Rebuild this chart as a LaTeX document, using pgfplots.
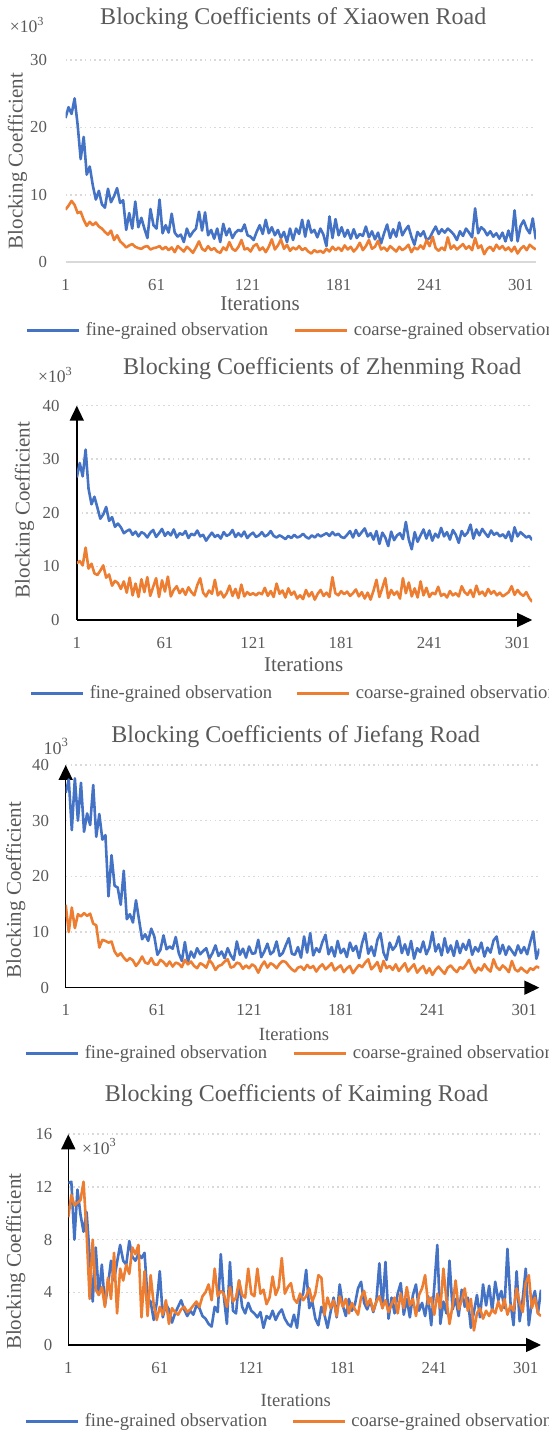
\documentclass[border=0pt]{standalone}
\usepackage{fontspec}
\setmainfont{Liberation Serif}
\usepackage{pgfplots}
\usepackage{pgfplotstable}
\pgfplotsset{compat=1.18}
\usetikzlibrary{arrows.meta}
\definecolor{fineblue}{HTML}{4472C4}
\definecolor{coarseorange}{HTML}{ED7D31}
\definecolor{txtgray}{HTML}{595959}
\definecolor{gridgray}{HTML}{D9D9D9}

% Xiaowen Road: columns f (fine) and c (coarse), iterations 1,3,5,...,311
\pgfplotstableread[row sep=\\]{
f c \\
21.4 7.8 \\ 23.0 8.4 \\ 22.0 9.1 \\ 24.3 8.5 \\ 20.4 7.3 \\ 15.3 7.5 \\ 18.6 6.3 \\ 13.0 5.4 \\
14.2 6.0 \\ 11.4 5.5 \\ 9.3 5.9 \\ 10.6 5.3 \\ 8.6 5.0 \\ 8.1 4.5 \\ 10.9 4.1 \\ 8.9 4.7 \\
9.8 3.3 \\ 11.0 4.0 \\ 8.8 3.1 \\ 9.2 2.7 \\ 4.8 2.2 \\ 7.3 2.5 \\ 5.0 2.7 \\ 9.0 2.3 \\
5.2 2.1 \\ 6.6 2.0 \\ 5.0 2.3 \\ 3.6 2.4 \\ 7.9 1.9 \\ 5.5 2.1 \\ 5.0 2.2 \\ 9.3 2.4 \\
4.3 1.9 \\ 5.5 2.3 \\ 4.4 1.8 \\ 7.2 2.2 \\ 4.4 1.5 \\ 3.8 2.4 \\ 4.1 2.0 \\ 3.0 1.6 \\
5.0 2.3 \\ 3.8 1.9 \\ 4.5 1.4 \\ 5.0 2.2 \\ 7.5 3.1 \\ 4.7 2.0 \\ 7.4 1.7 \\ 4.0 2.4 \\
4.8 1.8 \\ 3.5 2.1 \\ 5.0 1.6 \\ 3.0 1.4 \\ 5.7 2.2 \\ 4.0 1.8 \\ 5.0 3.0 \\ 3.6 2.0 \\
4.4 1.7 \\ 4.8 2.3 \\ 4.6 3.3 \\ 5.6 1.9 \\ 4.0 2.1 \\ 3.8 1.6 \\ 3.3 2.4 \\ 4.5 2.7 \\
5.5 1.8 \\ 4.2 2.2 \\ 6.3 1.5 \\ 4.3 2.3 \\ 5.2 3.4 \\ 4.0 1.9 \\ 4.8 2.5 \\ 3.6 3.4 \\
4.5 2.0 \\ 3.0 2.6 \\ 5.0 1.7 \\ 3.3 2.2 \\ 5.0 1.9 \\ 4.2 2.4 \\ 6.3 1.8 \\ 3.8 2.1 \\
6.2 1.6 \\ 4.4 1.3 \\ 4.8 1.8 \\ 3.7 1.5 \\ 5.0 1.7 \\ 4.1 1.4 \\ 2.4 2.0 \\ 6.8 1.6 \\
3.6 2.3 \\ 6.4 1.8 \\ 4.0 2.2 \\ 5.2 1.7 \\ 3.8 2.5 \\ 4.8 1.9 \\ 3.5 2.3 \\ 4.9 1.6 \\
3.6 2.1 \\ 4.2 2.9 \\ 3.9 1.8 \\ 5.3 2.4 \\ 3.7 3.3 \\ 4.6 2.0 \\ 3.4 2.3 \\ 4.4 3.2 \\
2.8 1.9 \\ 4.3 2.2 \\ 5.6 1.7 \\ 3.6 2.4 \\ 4.9 2.0 \\ 3.8 1.6 \\ 5.9 2.3 \\ 4.0 1.8 \\
4.8 2.1 \\ 5.4 2.6 \\ 3.8 1.5 \\ 2.6 2.2 \\ 4.5 1.9 \\ 3.9 2.5 \\ 4.6 2.0 \\ 3.3 3.3 \\
3.6 2.4 \\ 4.5 3.8 \\ 5.3 2.1 \\ 4.2 1.7 \\ 4.9 2.2 \\ 4.4 1.8 \\ 5.0 3.7 \\ 4.6 2.0 \\
4.1 2.5 \\ 3.3 1.9 \\ 4.6 2.3 \\ 3.9 2.7 \\ 5.0 2.0 \\ 4.4 2.4 \\ 3.7 1.8 \\ 8.0 3.6 \\
4.3 2.1 \\ 5.2 2.5 \\ 4.8 1.2 \\ 4.0 2.0 \\ 4.6 2.3 \\ 3.8 1.7 \\ 4.3 2.6 \\ 3.5 2.0 \\
4.4 2.4 \\ 3.1 1.8 \\ 4.7 2.2 \\ 3.2 1.6 \\ 7.7 2.3 \\ 3.1 1.3 \\ 5.4 2.0 \\ 6.2 2.4 \\
5.0 1.8 \\ 4.3 2.6 \\ 6.5 2.2 \\ 3.4 1.9 \\
}\tabA

% Zhenming Road
\pgfplotstableread[row sep=\\]{
f c \\
26.6 10.6 \\ 29.3 11.0 \\ 26.8 10.2 \\ 31.8 13.5 \\ 24.5 9.6 \\ 21.6 10.5 \\ 23.0 8.7 \\ 21.0 8.4 \\
18.9 9.2 \\ 19.7 10.2 \\ 21.1 7.9 \\ 18.5 8.5 \\ 19.2 6.4 \\ 17.4 7.3 \\ 18.0 6.9 \\ 17.3 5.8 \\
16.2 7.2 \\ 16.6 5.1 \\ 16.9 7.9 \\ 15.9 4.6 \\ 16.5 6.8 \\ 15.6 4.3 \\ 16.4 7.6 \\ 16.1 5.2 \\
15.4 8.0 \\ 16.3 4.5 \\ 16.8 6.2 \\ 15.5 7.8 \\ 16.2 4.3 \\ 17.0 7.4 \\ 15.7 5.3 \\ 16.4 8.1 \\
15.8 4.4 \\ 16.9 5.6 \\ 15.4 6.3 \\ 16.2 5.0 \\ 15.9 5.8 \\ 16.6 4.7 \\ 15.3 6.1 \\ 16.1 5.2 \\
15.8 4.6 \\ 16.7 6.5 \\ 15.6 7.8 \\ 15.9 5.1 \\ 14.8 4.4 \\ 15.6 5.5 \\ 16.3 4.9 \\ 15.5 7.5 \\
15.9 4.6 \\ 15.2 5.3 \\ 16.4 4.2 \\ 15.7 5.0 \\ 16.0 6.4 \\ 16.8 4.5 \\ 15.5 5.8 \\ 16.2 4.1 \\
15.6 6.6 \\ 16.5 4.4 \\ 15.3 5.2 \\ 15.9 4.7 \\ 16.3 5.0 \\ 15.5 4.6 \\ 15.8 5.1 \\ 16.4 4.8 \\
15.6 6.0 \\ 15.9 4.5 \\ 16.6 5.4 \\ 15.7 4.3 \\ 15.4 6.8 \\ 15.8 4.9 \\ 15.5 5.5 \\ 15.1 4.2 \\
15.7 5.9 \\ 15.3 4.7 \\ 15.9 5.3 \\ 15.4 4.0 \\ 15.6 4.6 \\ 16.1 3.9 \\ 15.5 5.6 \\ 15.2 4.4 \\
15.8 5.2 \\ 15.4 3.8 \\ 16.0 4.9 \\ 15.6 5.6 \\ 15.9 4.5 \\ 16.2 5.1 \\ 15.7 4.3 \\ 16.4 8.0 \\
15.8 5.0 \\ 16.1 4.6 \\ 15.5 5.4 \\ 15.3 4.8 \\ 15.9 5.3 \\ 16.6 4.5 \\ 15.4 5.0 \\ 16.8 5.7 \\
15.7 4.4 \\ 16.4 5.2 \\ 17.1 4.0 \\ 15.6 5.1 \\ 16.2 3.8 \\ 15.0 5.5 \\ 16.6 7.5 \\ 14.2 4.3 \\
16.3 6.0 \\ 15.4 7.8 \\ 13.8 4.1 \\ 16.5 5.6 \\ 14.9 4.7 \\ 15.8 5.3 \\ 16.2 4.0 \\ 15.1 7.8 \\
18.3 5.0 \\ 15.0 7.0 \\ 13.2 4.4 \\ 16.4 5.9 \\ 14.6 4.2 \\ 15.8 7.2 \\ 16.9 4.6 \\ 15.2 6.0 \\
16.7 4.3 \\ 14.8 5.1 \\ 16.1 4.8 \\ 15.4 6.2 \\ 17.2 4.5 \\ 15.6 4.9 \\ 16.4 4.2 \\ 15.0 5.4 \\
16.8 4.6 \\ 15.9 5.0 \\ 14.4 4.4 \\ 16.6 6.3 \\ 15.7 5.2 \\ 16.3 4.7 \\ 17.8 5.6 \\ 15.2 4.3 \\
16.9 6.4 \\ 15.8 4.8 \\ 17.0 5.3 \\ 16.2 4.5 \\ 15.5 5.8 \\ 16.7 4.9 \\ 15.9 5.4 \\ 16.3 4.6 \\
15.6 5.1 \\ 16.0 4.4 \\ 15.3 4.8 \\ 16.5 5.2 \\ 14.7 6.3 \\ 17.3 4.7 \\ 15.6 5.6 \\ 16.4 4.9 \\
15.9 4.5 \\ 15.4 5.2 \\ 15.7 4.1 \\ 14.9 3.4 \\
}\tabB

% Jiefang Road
\pgfplotstableread[row sep=\\]{
f c \\
35.0 14.9 \\ 37.4 10.0 \\ 28.3 14.4 \\ 37.6 10.7 \\ 30.0 13.2 \\ 36.8 12.8 \\ 28.0 13.4 \\ 31.3 12.9 \\
29.2 13.3 \\ 36.4 11.5 \\ 27.1 11.2 \\ 31.2 7.2 \\ 26.6 8.6 \\ 27.4 8.4 \\ 16.4 8.1 \\ 23.8 8.3 \\
18.3 6.5 \\ 18.0 5.7 \\ 14.9 6.2 \\ 21.0 5.4 \\ 12.3 4.8 \\ 13.2 5.3 \\ 11.7 4.9 \\ 15.7 3.9 \\
12.2 4.6 \\ 8.7 5.6 \\ 9.6 4.5 \\ 8.4 4.3 \\ 10.6 5.3 \\ 9.2 4.2 \\ 5.9 4.1 \\ 6.8 5.0 \\
9.4 4.6 \\ 6.9 3.9 \\ 7.4 4.7 \\ 7.0 3.8 \\ 9.1 4.5 \\ 6.2 4.3 \\ 4.8 3.7 \\ 8.2 5.0 \\
4.7 4.2 \\ 6.5 4.7 \\ 5.4 3.9 \\ 7.1 3.5 \\ 6.0 4.4 \\ 6.6 4.1 \\ 7.1 3.6 \\ 5.2 5.0 \\
6.2 4.3 \\ 7.6 3.2 \\ 5.7 3.9 \\ 6.5 4.1 \\ 5.3 4.7 \\ 7.1 5.1 \\ 5.8 3.6 \\ 5.0 3.8 \\
8.3 4.5 \\ 5.9 4.3 \\ 7.0 3.4 \\ 5.4 4.0 \\ 7.4 3.5 \\ 6.1 4.2 \\ 6.2 3.8 \\ 8.6 2.7 \\
5.5 3.9 \\ 6.5 4.7 \\ 7.9 3.6 \\ 6.0 4.4 \\ 6.5 4.1 \\ 8.3 3.5 \\ 5.7 4.3 \\ 6.2 4.8 \\
7.6 4.6 \\ 8.9 3.9 \\ 6.1 3.3 \\ 5.9 2.9 \\ 7.3 3.6 \\ 5.4 3.8 \\ 9.2 3.2 \\ 6.3 4.1 \\
9.8 3.5 \\ 5.8 3.9 \\ 7.1 2.9 \\ 6.4 3.7 \\ 8.2 4.2 \\ 9.5 3.3 \\ 6.0 3.8 \\ 7.3 4.4 \\
5.6 3.1 \\ 8.4 3.6 \\ 6.2 4.0 \\ 7.0 2.8 \\ 5.5 3.5 \\ 8.1 3.9 \\ 6.6 2.6 \\ 7.5 3.4 \\
5.3 4.1 \\ 8.0 3.7 \\ 9.8 4.5 \\ 6.1 5.1 \\ 7.4 3.3 \\ 5.7 3.9 \\ 8.6 4.6 \\ 9.8 2.9 \\
6.3 4.8 \\ 5.0 3.5 \\ 8.1 3.9 \\ 6.8 3.2 \\ 7.5 4.2 \\ 9.2 3.0 \\ 6.2 3.7 \\ 7.8 4.4 \\
5.9 2.9 \\ 8.4 3.6 \\ 5.2 4.2 \\ 7.1 2.7 \\ 6.4 3.4 \\ 8.3 3.9 \\ 6.0 2.6 \\ 7.2 3.5 \\
10.0 2.3 \\ 6.5 3.2 \\ 7.8 3.8 \\ 5.8 3.1 \\ 8.9 2.5 \\ 6.3 3.6 \\ 7.6 4.0 \\ 5.7 3.3 \\
8.4 2.8 \\ 6.2 3.7 \\ 7.9 3.4 \\ 6.8 4.1 \\ 8.6 5.0 \\ 5.9 3.5 \\ 7.3 2.7 \\ 6.5 3.6 \\
8.1 3.1 \\ 5.6 4.2 \\ 7.2 3.4 \\ 6.3 2.9 \\ 8.5 5.1 \\ 9.2 3.7 \\ 6.1 3.2 \\ 7.7 4.0 \\
5.9 3.5 \\ 7.4 2.8 \\ 6.6 4.8 \\ 5.8 3.3 \\ 7.6 2.9 \\ 6.2 3.6 \\ 7.3 3.1 \\ 6.0 2.7 \\
8.2 3.5 \\ 10.1 3.2 \\ 5.2 3.8 \\ 7.0 3.6 \\
}\tabC

% Kaiming Road
\pgfplotstableread[row sep=\\]{
f c \\
12.3 9.7 \\ 12.4 11.4 \\ 8.0 10.6 \\ 11.8 10.8 \\ 9.9 11.0 \\ 8.6 12.4 \\ 10.1 8.5 \\ 6.8 3.5 \\
3.3 8.0 \\ 7.4 4.2 \\ 3.8 3.8 \\ 6.1 4.4 \\ 3.0 2.9 \\ 4.5 5.1 \\ 6.4 3.5 \\ 4.9 7.0 \\
6.3 2.4 \\ 7.6 5.8 \\ 6.4 4.9 \\ 6.1 6.1 \\ 7.9 5.4 \\ 6.7 7.4 \\ 6.4 6.9 \\ 6.9 7.6 \\
6.6 2.1 \\ 7.0 5.6 \\ 3.5 2.2 \\ 3.3 5.3 \\ 1.9 3.1 \\ 3.2 1.9 \\ 5.6 2.9 \\ 2.1 2.3 \\
3.1 3.4 \\ 2.7 1.6 \\ 1.7 2.8 \\ 2.4 2.5 \\ 2.9 2.3 \\ 3.4 2.7 \\ 2.7 2.9 \\ 2.2 2.5 \\
2.6 2.7 \\ 2.3 3.0 \\ 3.0 3.3 \\ 2.8 2.9 \\ 2.2 3.7 \\ 2.0 4.0 \\ 1.6 4.6 \\ 1.4 3.4 \\
2.9 5.8 \\ 2.5 3.7 \\ 6.9 4.1 \\ 3.7 3.9 \\ 1.6 2.9 \\ 6.3 4.4 \\ 2.6 3.3 \\ 2.4 3.6 \\
4.9 4.9 \\ 2.9 3.8 \\ 2.4 3.6 \\ 3.2 5.8 \\ 2.6 3.9 \\ 2.4 3.7 \\ 2.1 5.8 \\ 2.5 3.9 \\
1.3 4.2 \\ 2.2 3.1 \\ 2.0 3.6 \\ 2.6 5.2 \\ 1.9 3.8 \\ 2.4 4.4 \\ 2.7 6.6 \\ 2.0 3.9 \\
1.6 4.4 \\ 1.4 4.7 \\ 2.3 3.5 \\ 1.3 3.2 \\ 3.4 3.9 \\ 3.9 3.4 \\ 5.7 3.7 \\ 2.8 4.3 \\
3.3 3.3 \\ 2.0 3.9 \\ 1.5 5.3 \\ 2.9 5.1 \\ 2.3 2.3 \\ 1.3 3.6 \\ 2.5 2.8 \\ 3.6 3.4 \\
2.1 2.2 \\ 4.6 3.7 \\ 3.0 2.9 \\ 2.2 3.5 \\ 3.5 2.4 \\ 2.6 3.2 \\ 3.1 2.7 \\ 4.3 2.3 \\
4.8 3.6 \\ 3.2 4.1 \\ 2.7 3.0 \\ 3.4 3.5 \\ 2.5 2.6 \\ 3.3 3.3 \\ 6.2 3.7 \\ 2.8 2.8 \\
6.3 3.4 \\ 2.0 2.5 \\ 3.6 3.1 \\ 2.4 3.6 \\ 3.9 2.4 \\ 4.7 3.9 \\ 2.3 2.8 \\ 3.5 4.4 \\
2.1 3.0 \\ 3.8 3.5 \\ 4.6 2.2 \\ 2.6 3.8 \\ 3.2 4.3 \\ 2.2 5.3 \\ 3.7 3.1 \\ 1.5 3.6 \\
4.4 2.3 \\ 7.6 3.9 \\ 1.6 2.8 \\ 3.3 5.8 \\ 2.4 3.4 \\ 6.4 1.6 \\ 2.7 3.0 \\ 3.5 4.9 \\
2.2 2.7 \\ 4.2 3.4 \\ 2.9 4.3 \\ 3.6 2.6 \\ 1.3 3.5 \\ 2.5 1.1 \\ 3.8 2.4 \\ 2.1 2.8 \\
4.6 2.0 \\ 3.0 2.6 \\ 4.5 2.2 \\ 2.6 2.7 \\ 4.8 2.4 \\ 3.4 3.3 \\ 4.1 2.6 \\ 2.8 3.5 \\
7.3 2.3 \\ 3.2 3.0 \\ 1.5 2.6 \\ 5.6 4.3 \\ 1.8 3.2 \\ 3.5 2.5 \\ 5.8 4.7 \\ 1.5 5.3 \\
3.3 2.8 \\ 4.1 3.6 \\ 2.4 2.4 \\ 4.2 2.2 \\
}\tabD

\pgfplotsset{
  blk/.style={
    scale only axis, anchor=south west,
    xmin=1, xmax=311, ymin=0,
    clip mode=individual,
    xtick={1,61,121,181,241,301},
    ymajorgrids,
    grid style={gridgray, line width=0.8bp, dash pattern=on 0.8bp off 1.6bp},
    major tick length=0pt,
    every axis title shift=0pt,
    /pgf/number format/assume math mode=true,
    tick label style={font=\fontsize{8.4bp}{10bp}\selectfont, text=txtgray},
    xticklabel style={anchor=center, yshift=-11.3bp, inner sep=0pt},
    title style={anchor=center, font=\fontsize{12bp}{14bp}\selectfont, text=txtgray},
    ylabel style={anchor=center, font=\fontsize{10.5bp}{12bp}\selectfont, text=txtgray},
    xlabel style={anchor=center, text=txtgray},
    legend columns=2,
    legend cell align=left,
    legend image code/.code={\draw[##1, line width=1.3bp] (0bp,0bp) -- (26bp,0bp);},
    legend style={anchor=west, draw=none, fill=none, inner sep=0pt, outer sep=0pt,
      font=\fontsize{9.3bp}{11bp}\selectfont, text=txtgray,
      nodes={inner sep=0pt},
      /tikz/every odd column/.append style={column sep=2.6bp},
      /tikz/every even column/.append style={column sep=13bp}},
  },
  arrowaxis/.style={
    axis lines=left,
    axis line style={black, line width=0.75bp, -{Triangle[width=7bp,length=7.5bp]}},
  },
  fine/.style={fineblue, line width=1.3bp, line join=round, mark=none},
  coarse/.style={coarseorange, line width=1.3bp, line join=round, mark=none},
}

\begin{document}
\begin{tikzpicture}
\useasboundingbox (0,0) rectangle (274.5bp,716.5bp);

% ---------- Xiaowen Road ----------
\begin{axis}[blk,
  at={(32.75bp,585.35bp)}, width=235.15bp, height=101.15bp,
  ymax=30, ytick={0,10,20,30},
  axis x line=bottom, axis y line=left,
  x axis line style={gridgray, line width=0.8bp, -},
  y axis line style={draw=none, -},
  yticklabel style={anchor=east, xshift=-9.1bp, inner sep=0pt},
  title={Blocking Coefficients of Xiaowen Road},
  title style={at={(axis description cs:0.4844,1.2027)}},
  xlabel={Iterations},
  xlabel style={at={(axis description cs:0.4136,-0.2061)}, font=\fontsize{10.5bp}{12bp}\selectfont},
  ylabel={Blocking Coefficient},
  ylabel style={at={(axis description cs:-0.1019,0.5)}},
  legend style={at={(axis description cs:-0.084,-0.338)}},
]
\addplot[fine] table[x expr=2*\coordindex+1, y=f] {\tabA};
\addplot[coarse] table[x expr=2*\coordindex+1, y=c] {\tabA};
\legend{fine-grained observation, coarse-grained observation}
\node[font=\fontsize{8.8bp}{10bp}\selectfont, text=txtgray] at (axis description cs:-0.0812,1.173) {×10\textsuperscript{3}};
\end{axis}

% ---------- Zhenming Road ----------
\begin{axis}[blk, arrowaxis,
  at={(38.4bp,406.5bp)}, width=227.7bp, height=107.15bp,
  ymax=40, ytick={0,10,20,30,40},
  yticklabel style={anchor=east, xshift=-8.5bp, inner sep=0pt},
  title={Blocking Coefficients of Zhenming Road},
  title style={at={(axis description cs:0.5389,1.1713)}},
  xlabel={Iterations},
  xlabel style={at={(axis description cs:0.4982,-0.21)}, font=\fontsize{10.5bp}{12bp}\selectfont},
  ylabel={Blocking Coefficient},
  ylabel style={at={(axis description cs:-0.1146,0.5133)}},
  legend style={at={(axis description cs:-0.1028,-0.342)}, /tikz/every even column/.append style={column sep=12bp}},
]
\addplot[fine] table[x expr=2*\coordindex+1, y=f] {\tabB};
\addplot[coarse] table[x expr=2*\coordindex+1, y=c] {\tabB};
\legend{fine-grained observation, coarse-grained observation}
\node[font=\fontsize{8.8bp}{10bp}\selectfont, text=txtgray] at (axis description cs:-0.0468,1.1433) {×10\textsuperscript{3}};
\end{axis}

% ---------- Jiefang Road ----------
\begin{axis}[blk, arrowaxis,
  at={(32.85bp,222.65bp)}, width=236.85bp, height=111.35bp,
  ymax=40, ytick={0,10,20,30,40},
  yticklabel style={anchor=east, xshift=-8.2bp, inner sep=0pt},
  title={Blocking Coefficients of Jiefang Road},
  title style={at={(axis description cs:0.4857,1.127)}},
  xlabel={Iterations},
  xlabel style={at={(axis description cs:0.482,-0.2093)}, font=\fontsize{9.3bp}{11bp}\selectfont},
  ylabel={Blocking Coefficient},
  ylabel style={at={(axis description cs:-0.1053,0.4387)}},
  legend style={at={(axis description cs:-0.0859,-0.2946)}},
]
\addplot[fine] table[x expr=2*\coordindex+1, y=f] {\tabC};
\addplot[coarse] table[x expr=2*\coordindex+1, y=c] {\tabC};
\legend{fine-grained observation, coarse-grained observation}
\node[font=\fontsize{9bp}{10bp}\selectfont, text=txtgray] at (axis description cs:-0.0198,1.0822) {10\textsuperscript{3}};
\end{axis}

% ---------- Kaiming Road ----------
\begin{axis}[blk, arrowaxis,
  at={(34.15bp,44bp)}, width=236.35bp, height=105.35bp,
  ymax=16, ytick={0,4,8,12,16},
  yticklabel style={anchor=east, xshift=-7.8bp, inner sep=0pt},
  title={Blocking Coefficients of Kaiming Road},
  title style={at={(axis description cs:0.4832,1.1832)}},
  xlabel={Iterations},
  xlabel style={at={(axis description cs:0.4813,-0.261)}, font=\fontsize{9.3bp}{11bp}\selectfont},
  ylabel={Blocking Coefficient},
  ylabel style={at={(axis description cs:-0.1111,0.3953)}},
  legend style={at={(axis description cs:-0.0916,-0.364)}, /tikz/every even column/.append style={column sep=12.2bp}},
]
\addplot[fine] table[x expr=2*\coordindex+1, y=f] {\tabD};
\addplot[coarse] table[x expr=2*\coordindex+1, y=c] {\tabD};
\legend{fine-grained observation, coarse-grained observation}
\node[font=\fontsize{8.8bp}{10bp}\selectfont, text=txtgray] at (axis description cs:0.066,0.9412) {×10\textsuperscript{3}};
\end{axis}
\end{tikzpicture}
\end{document}
